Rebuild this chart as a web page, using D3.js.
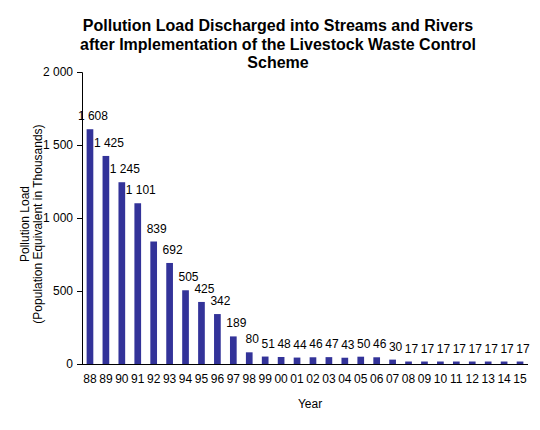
<!DOCTYPE html>
<html>
<head>
<meta charset="utf-8">
<script src="https://cdn.jsdelivr.net/npm/d3@7"></script>
<style>
  body { margin: 0; background: #fff; }
  svg { display: block; font-family: "Liberation Sans", Arial, sans-serif; }
</style>
</head>
<body>
<div id="chart"></div>
<script>
// Years shown on the category axis
const years = ["88", "89", "90", "91", "92", "93", "94", "95", "96", "97", "98", "99",
    "00", "01", "02", "03", "04", "05", "06", "07", "08", "09", "10", "11", "12", "13", "14", "15"];

// Pollution load (population equivalent in thousands)
const loads = [1608, 1425, 1245, 1101, 839, 692, 505, 425, 342, 189, 80, 51,
    48, 44, 46, 47, 43, 50, 46, 30, 17, 17, 17, 17, 17, 17, 17, 17];

const yTicks = [0, 500, 1000, 1500, 2000];

const titleLines = [
    "Pollution Load Discharged into Streams and Rivers",
    "after Implementation of the Livestock Waste Control",
    "Scheme"
];

const width = 540, height = 430;
const margin = { top: 72, right: 12, bottom: 66, left: 82 };

const svg = d3.select("#chart").append("svg")
    .attr("width", width)
    .attr("height", height);

// Number format with a space as thousands separator
function fmt(d) {
    return d3.format(",")(d).replace(/,/g, " ");
}

const x = d3.scaleBand()
    .domain(years)
    .range([margin.left, width - margin.right])
    .paddingInner(0.58)
    .paddingOuter(0.29);

const y = d3.scaleLinear()
    .domain([0, 2000])
    .range([height - margin.bottom, margin.top]);

// Title
svg.append("text")
    .attr("x", 278)
    .attr("y", 31)
    .attr("text-anchor", "middle")
    .attr("font-size", 16)
    .attr("font-weight", "bold")
    .selectAll("tspan")
    .data(titleLines)
    .enter().append("tspan")
        .attr("x", 278)
        .attr("dy", (d, i) => i == 0 ? 0 : 18.5)
        .text(d => d);

// Bars
svg.selectAll("rect.bar")
    .data(loads)
    .enter().append("rect")
        .attr("class", "bar")
        .attr("fill", "#333399")
        .attr("x", (d, i) => x(years[i]))
        .attr("y", d => y(d))
        .attr("width", x.bandwidth())
        .attr("height", d => y(0) - y(d));

// Value labels
svg.selectAll("text.value")
    .data(loads)
    .enter().append("text")
        .attr("class", "value")
        .attr("x", (d, i) => x(years[i]) + x.bandwidth() / 2 + 3)
        .attr("y", d => y(d) - 9)
        .attr("text-anchor", "middle")
        .attr("font-size", 12)
        .attr("fill", "#000")
        .text(d => fmt(d));

// Y axis
const yAxis = svg.append("g")
    .attr("transform", `translate(${margin.left},0)`)
    .call(d3.axisLeft(y).tickValues(yTicks).tickFormat(fmt).tickSize(5).tickPadding(4));
yAxis.selectAll("text").attr("font-size", 12).attr("font-family", null).attr("fill", "#000");
yAxis.selectAll("line, path").attr("stroke", "#000");

// X axis
const xAxis = svg.append("g")
    .attr("transform", `translate(0,${y(0)})`)
    .call(d3.axisBottom(x).tickSize(0).tickSizeOuter(0).tickPadding(10));
xAxis.selectAll("text").attr("font-size", 12).attr("font-family", null).attr("fill", "#000");
xAxis.select("path").attr("stroke", "#000").attr("d", `M${margin.left},0.5H${width - margin.right}`);

// Axis titles
svg.append("text")
    .attr("transform", "translate(29,224) rotate(-90)")
    .attr("text-anchor", "middle")
    .attr("font-size", 12)
    .selectAll("tspan")
    .data(["Pollution Load", "(Population Equivalent in Thousands)"])
    .enter().append("tspan")
        .attr("x", 0)
        .attr("dy", (d, i) => i == 0 ? 0 : 13)
        .text(d => d);

svg.append("text")
    .attr("x", 310)
    .attr("y", 408)
    .attr("text-anchor", "middle")
    .attr("font-size", 12)
    .text("Year");
</script>
</body>
</html>
